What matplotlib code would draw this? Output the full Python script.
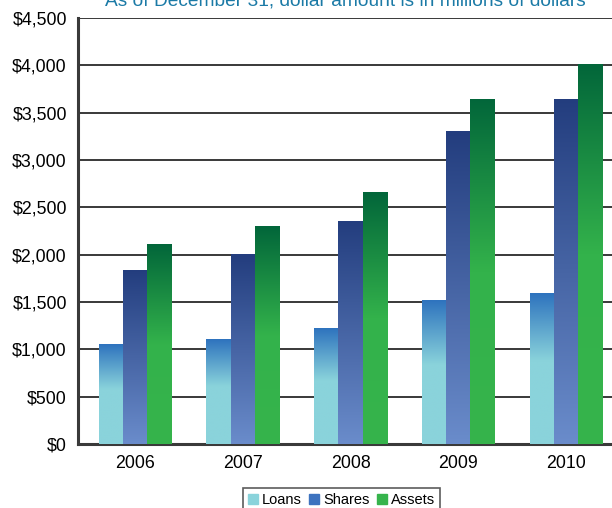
import numpy as np
import matplotlib.pyplot as plt
from matplotlib.colors import LinearSegmentedColormap
from matplotlib.patches import Patch

plt.rcParams['font.family'] = ['Liberation Sans', 'DejaVu Sans']

# Data (millions of dollars, as of December 31)
years = ['2006', '2007', '2008', '2009', '2010']
loans = [1055, 1105, 1225, 1520, 1595]
shares = [1840, 2005, 2360, 3305, 3645]
assets = [2110, 2300, 2660, 3645, 4015]
yticks = [0, 500, 1000, 1500, 2000, 2500, 3000, 3500, 4000, 4500]

# gradient colours, top -> bottom
loan_cmap = LinearSegmentedColormap.from_list('loans', [(0, '#2e73be'), (0.45, '#8ad3db'), (1, '#8ad3db')])
share_cmap = LinearSegmentedColormap.from_list('shares', [(0, '#233d7e'), (1, '#6a8ccb')])
asset_cmap = LinearSegmentedColormap.from_list('assets', [(0, '#02663a'), (0.5, '#33b24b'), (1, '#36b44c')])

fig = plt.figure(figsize=(6.12, 5.08), dpi=100)
ax = fig.add_axes([0.1275, 0.126, 0.8905, 0.8386])

x = np.arange(len(years))
w = 0.225
series = [(loans, -w, loan_cmap), (shares, 0, share_cmap), (assets, w, asset_cmap)]

grad = np.linspace(0, 1, 256).reshape(-1, 1)
for vals, off, cmap in series:
    bars = ax.bar(x + off, vals, width=w, color='none', edgecolor='none', zorder=3)
    for b in bars:
        x0, y0 = b.get_x(), b.get_y()
        x1, y1 = x0 + b.get_width(), y0 + b.get_height()
        # row 0 (top colour) sits at the bar top
        im = ax.imshow(grad, cmap=cmap, aspect='auto', extent=[x0, x1, y0, y1],
                       origin='upper', zorder=3, interpolation='bilinear')
        im.set_clip_path(b)

ax.set_xlim(-0.528, 4.528)
ax.set_ylim(0, 4500)
ax.set_yticks(yticks)
ax.set_yticklabels(['${:,}'.format(v) for v in yticks], fontsize=12.8)
ax.set_xticks(x)
ax.set_xticklabels(years, fontsize=12.8)
ax.tick_params(axis='y', length=0, pad=8)
ax.tick_params(axis='x', length=0, pad=8)

ax.grid(axis='y', color='#2a2a2a', linewidth=1.3, zorder=1)
ax.set_axisbelow(True)
for s in ['top', 'right']:
    ax.spines[s].set_visible(False)
for s in ['left', 'bottom']:
    ax.spines[s].set_color('#3a3a3a')
    ax.spines[s].set_linewidth(2.2)

fig.text(0.565, 0.989, 'As of December 31, dollar amount is in millions of dollars',
         ha='center', va='baseline', fontsize=13.8, color='#1b7aa6')

handles = [Patch(color='#8ad3db', label='Loans'),
           Patch(color='#3d73bf', label='Shares'),
           Patch(color='#36b44c', label='Assets')]
leg = fig.legend(handles=handles, loc='lower center', bbox_to_anchor=(0.558, -0.008), ncol=3,
                 fontsize=10.5, frameon=True, fancybox=False, handlelength=0.7,
                 handleheight=0.7, handletextpad=0.25, columnspacing=0.5,
                 borderpad=0.35, borderaxespad=0)
leg.get_frame().set_edgecolor('#333333')
leg.get_frame().set_linewidth(1.2)

fig.savefig('out.png', dpi=100)
